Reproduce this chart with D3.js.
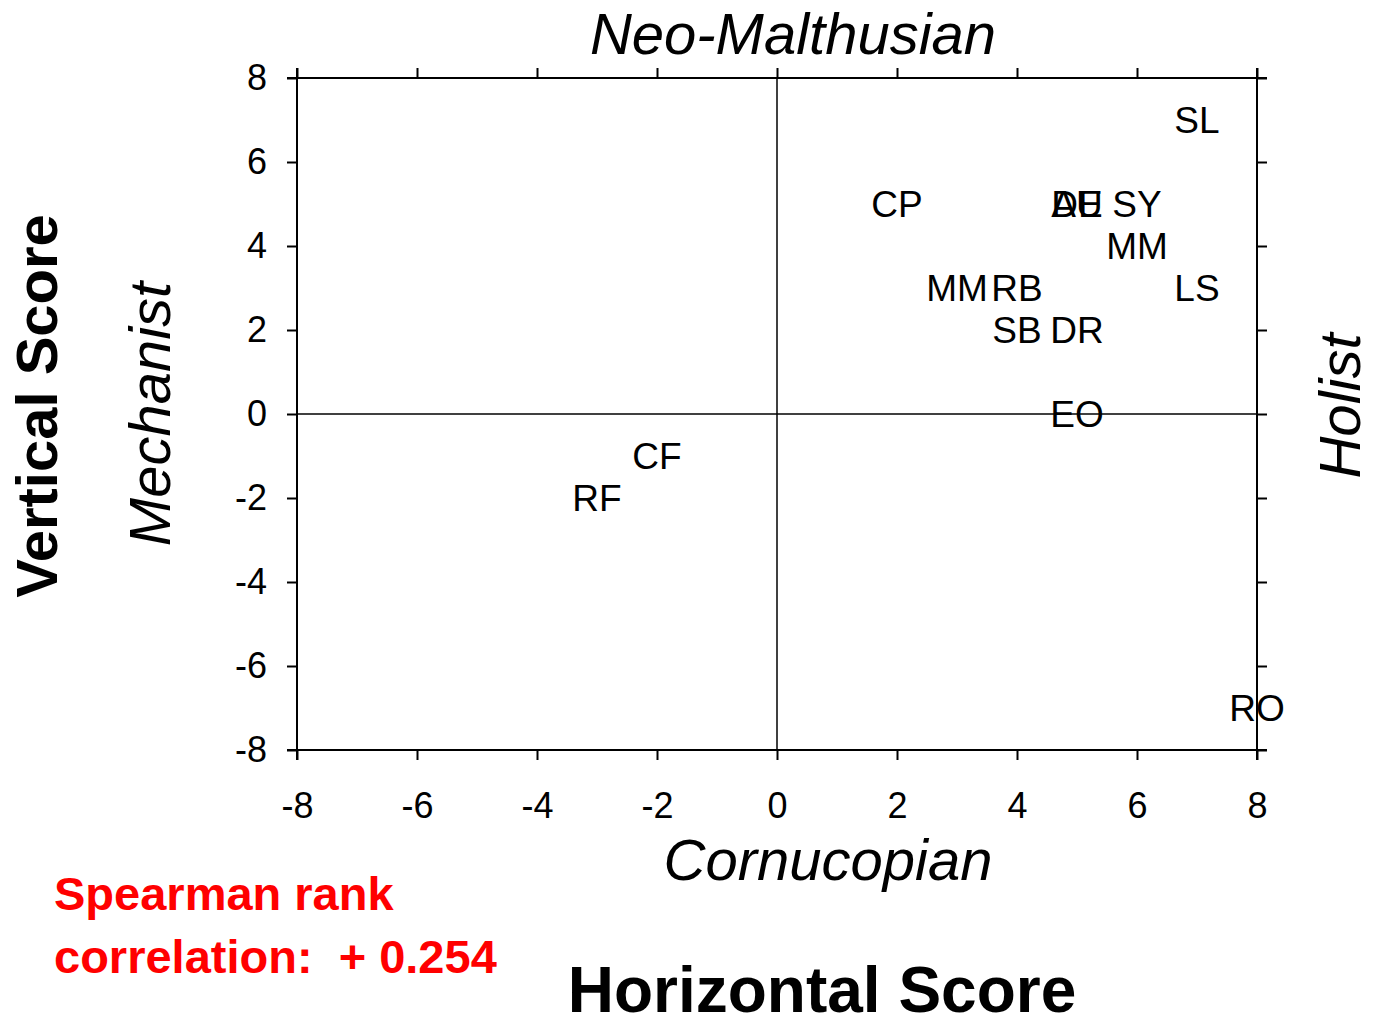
<html>
<head>
<meta charset="utf-8">
<title>Horizontal vs Vertical Score</title>
<script src="https://cdn.jsdelivr.net/npm/d3@7"></script>
<style>
  body { margin: 0; background: #fff; }
  text { font-family: "Liberation Sans", Arial, sans-serif; }
</style>
</head>
<body>
<script>
let w = 1373
let h = 1029

// data
let codes = ["SL", "CP", "AU", "DE", "SY", "MM", "LS", "MM", "RB", "SB", "DR", "EO", "CF", "RF", "RO"]
let hScores = [7, 2, 5, 5, 6, 6, 7, 3, 4, 4, 5, 5, -2, -3, 8]
let vScores = [7, 5, 5, 5, 5, 4, 3, 3, 3, 2, 2, 0, -1, -2, -7]
let ticks = [-8, -6, -4, -2, 0, 2, 4, 6, 8]

let plotLeft = 297, plotRight = 1257, plotTop = 78, plotBottom = 750

let svg = d3.select("body").append("svg")
    .attr("width", w)
    .attr("height", h)

let x = d3.scaleLinear().domain([-8, 8]).range([plotLeft, plotRight])
let y = d3.scaleLinear().domain([-8, 8]).range([plotBottom, plotTop])
let fmt = d => String(d)

function style_axis(g, labels) {
    g.select(".domain").remove()
    g.selectAll(".tick line").attr("stroke", "#000").attr("stroke-width", 2)
    if (!labels) g.selectAll(".tick text").remove()
    else g.selectAll(".tick text").attr("font-size", 36).attr("fill", "#000")
              .attr("font-family", "Liberation Sans, Arial, sans-serif")
}

svg.append("g")
    .attr("transform", "translate(0," + plotBottom + ")")
    .call(d3.axisBottom(x).tickValues(ticks).tickSize(10).tickPadding(32).tickFormat(fmt))
    .call(g => style_axis(g, true))
svg.append("g")
    .attr("transform", "translate(0," + plotTop + ")")
    .call(d3.axisTop(x).tickValues(ticks).tickSize(10))
    .call(g => style_axis(g, false))
svg.append("g")
    .attr("transform", "translate(" + plotLeft + ",0)")
    .call(d3.axisLeft(y).tickValues(ticks).tickSize(10).tickPadding(20).tickFormat(fmt))
    .call(g => style_axis(g, true))
svg.append("g")
    .attr("transform", "translate(" + plotRight + ",0)")
    .call(d3.axisRight(y).tickValues(ticks).tickSize(10))
    .call(g => style_axis(g, false))

// frame, each side running a little past the corners
let ext = 10
let frame = [
    [plotLeft - ext, plotTop, plotRight + ext, plotTop],
    [plotLeft - ext, plotBottom, plotRight + ext, plotBottom],
    [plotLeft, plotTop - ext, plotLeft, plotBottom + ext],
    [plotRight, plotTop - ext, plotRight, plotBottom + ext]
]
svg.selectAll("line.frame")
    .data(frame)
    .enter()
    .append("line")
    .attr("class", "frame")
    .attr("x1", d => d[0]).attr("y1", d => d[1])
    .attr("x2", d => d[2]).attr("y2", d => d[3])
    .attr("stroke", "#000")
    .attr("stroke-width", 2)

// zero lines
svg.append("line")
    .attr("x1", x(0)).attr("x2", x(0))
    .attr("y1", plotTop).attr("y2", plotBottom)
    .attr("stroke", "#000").attr("stroke-width", 1.5)
svg.append("line")
    .attr("x1", plotLeft).attr("x2", plotRight)
    .attr("y1", y(0)).attr("y2", y(0))
    .attr("stroke", "#000").attr("stroke-width", 1.5)

// point labels
let points = codes.map((c, i) => ({code: c, h: hScores[i], v: vScores[i]}))
svg.selectAll("text.pt")
    .data(points)
    .enter()
    .append("text")
    .attr("class", "pt")
    .attr("x", d => x(d.h))
    .attr("y", d => y(d.v))
    .attr("dy", "0.36em")
    .attr("text-anchor", "middle")
    .attr("font-size", 37)
    .attr("fill", "#000")
    .text(d => d.code)

// titles
svg.append("text")
    .attr("x", 793).attr("y", 54)
    .attr("text-anchor", "middle")
    .attr("font-size", 58).attr("font-style", "italic")
    .text("Neo-Malthusian")
svg.append("text")
    .attr("x", 828).attr("y", 880)
    .attr("text-anchor", "middle")
    .attr("font-size", 58).attr("font-style", "italic")
    .text("Cornucopian")
svg.append("text")
    .attr("x", 822).attr("y", 1012)
    .attr("text-anchor", "middle")
    .attr("font-size", 64).attr("font-weight", "bold")
    .text("Horizontal Score")
svg.append("text")
    .attr("transform", "translate(57,406) rotate(-90)")
    .attr("text-anchor", "middle")
    .attr("font-size", 58).attr("font-weight", "bold")
    .text("Vertical Score")
svg.append("text")
    .attr("transform", "translate(170,414) rotate(-90)")
    .attr("text-anchor", "middle")
    .attr("font-size", 58).attr("font-style", "italic")
    .text("Mechanist")
svg.append("text")
    .attr("transform", "translate(1360,406) rotate(-90)")
    .attr("text-anchor", "middle")
    .attr("font-size", 58).attr("font-style", "italic")
    .text("Holist")

// spearman note
let note = svg.append("text")
    .attr("font-family", "Lato, 'Open Sans', sans-serif")
    .attr("font-weight", "bold")
    .attr("font-size", 47)
    .attr("fill", "#ff0000")
note.append("tspan").attr("x", 54).attr("y", 910).text("Spearman rank")
note.append("tspan").attr("x", 54).attr("y", 973).style("white-space", "pre").text("correlation:  + 0.254")
</script>
</body>
</html>
